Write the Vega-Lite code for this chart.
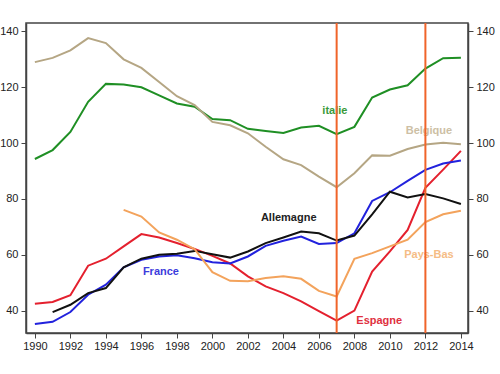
{
  "$schema": "https://vega.github.io/schema/vega-lite/v6.json",
  "width": 442,
  "height": 310,
  "autosize": {"type": "none"},
  "padding": {"left": 26, "top": 23, "right": 32, "bottom": 41},
  "background": "white",
  "config": {
    "view": {"stroke": "#444", "strokeWidth": 1.5},
    "font": "Liberation Sans",
    "axis": {"labelFont": "Liberation Sans", "labelFontSize": 11, "labelColor": "#222", "tickColor": "#444", "domainColor": "#444", "domainWidth": 1.5, "tickSize": 5, "grid": false, "title": null, "labelOverlap": false}
  },
  "datasets": {
    "series": [
      {"country": "Italie", "year": 1990, "value": 94.3}, {"country": "Italie", "year": 1991, "value": 97.5}, {"country": "Italie", "year": 1992, "value": 104}, {"country": "Italie", "year": 1993, "value": 114.8}, {"country": "Italie", "year": 1994, "value": 121.2}, {"country": "Italie", "year": 1995, "value": 121}, {"country": "Italie", "year": 1996, "value": 120}, {"country": "Italie", "year": 1997, "value": 117.1}, {"country": "Italie", "year": 1998, "value": 114.2}, {"country": "Italie", "year": 1999, "value": 113}, {"country": "Italie", "year": 2000, "value": 108.6}, {"country": "Italie", "year": 2001, "value": 108.2}, {"country": "Italie", "year": 2002, "value": 105.1}, {"country": "Italie", "year": 2003, "value": 104.3}, {"country": "Italie", "year": 2004, "value": 103.6}, {"country": "Italie", "year": 2005, "value": 105.6}, {"country": "Italie", "year": 2006, "value": 106.2}, {"country": "Italie", "year": 2007, "value": 103.2}, {"country": "Italie", "year": 2008, "value": 105.8}, {"country": "Italie", "year": 2009, "value": 116.3}, {"country": "Italie", "year": 2010, "value": 119.2}, {"country": "Italie", "year": 2011, "value": 120.7}, {"country": "Italie", "year": 2012, "value": 126.7}, {"country": "Italie", "year": 2013, "value": 130.4}, {"country": "Italie", "year": 2014, "value": 130.6},
      {"country": "Belgique", "year": 1990, "value": 129}, {"country": "Belgique", "year": 1991, "value": 130.5}, {"country": "Belgique", "year": 1992, "value": 133.2}, {"country": "Belgique", "year": 1993, "value": 137.6}, {"country": "Belgique", "year": 1994, "value": 135.8}, {"country": "Belgique", "year": 1995, "value": 130}, {"country": "Belgique", "year": 1996, "value": 126.9}, {"country": "Belgique", "year": 1997, "value": 121.9}, {"country": "Belgique", "year": 1998, "value": 116.8}, {"country": "Belgique", "year": 1999, "value": 113.6}, {"country": "Belgique", "year": 2000, "value": 107.6}, {"country": "Belgique", "year": 2001, "value": 106.4}, {"country": "Belgique", "year": 2002, "value": 103.5}, {"country": "Belgique", "year": 2003, "value": 98.7}, {"country": "Belgique", "year": 2004, "value": 94.2}, {"country": "Belgique", "year": 2005, "value": 92.1}, {"country": "Belgique", "year": 2006, "value": 88}, {"country": "Belgique", "year": 2007, "value": 84.2}, {"country": "Belgique", "year": 2008, "value": 89.2}, {"country": "Belgique", "year": 2009, "value": 95.6}, {"country": "Belgique", "year": 2010, "value": 95.5}, {"country": "Belgique", "year": 2011, "value": 97.9}, {"country": "Belgique", "year": 2012, "value": 99.5}, {"country": "Belgique", "year": 2013, "value": 100.1}, {"country": "Belgique", "year": 2014, "value": 99.6},
      {"country": "Espagne", "year": 1990, "value": 42.5}, {"country": "Espagne", "year": 1991, "value": 43.1}, {"country": "Espagne", "year": 1992, "value": 45.5}, {"country": "Espagne", "year": 1993, "value": 56.1}, {"country": "Espagne", "year": 1994, "value": 58.6}, {"country": "Espagne", "year": 1995, "value": 63}, {"country": "Espagne", "year": 1996, "value": 67.4}, {"country": "Espagne", "year": 1997, "value": 66.2}, {"country": "Espagne", "year": 1998, "value": 64.2}, {"country": "Espagne", "year": 1999, "value": 62.1}, {"country": "Espagne", "year": 2000, "value": 59.6}, {"country": "Espagne", "year": 2001, "value": 56.9}, {"country": "Espagne", "year": 2002, "value": 52.3}, {"country": "Espagne", "year": 2003, "value": 48.7}, {"country": "Espagne", "year": 2004, "value": 46.3}, {"country": "Espagne", "year": 2005, "value": 43.3}, {"country": "Espagne", "year": 2006, "value": 39.8}, {"country": "Espagne", "year": 2007, "value": 36.4}, {"country": "Espagne", "year": 2008, "value": 40}, {"country": "Espagne", "year": 2009, "value": 54}, {"country": "Espagne", "year": 2010, "value": 61.2}, {"country": "Espagne", "year": 2011, "value": 68.9}, {"country": "Espagne", "year": 2012, "value": 84}, {"country": "Espagne", "year": 2013, "value": 90.5}, {"country": "Espagne", "year": 2014, "value": 97.2},
      {"country": "France", "year": 1990, "value": 35.2}, {"country": "France", "year": 1991, "value": 36}, {"country": "France", "year": 1992, "value": 39.5}, {"country": "France", "year": 1993, "value": 45.7}, {"country": "France", "year": 1994, "value": 49.3}, {"country": "France", "year": 1995, "value": 55.5}, {"country": "France", "year": 1996, "value": 58.2}, {"country": "France", "year": 1997, "value": 59.4}, {"country": "France", "year": 1998, "value": 59.8}, {"country": "France", "year": 1999, "value": 58.8}, {"country": "France", "year": 2000, "value": 57.3}, {"country": "France", "year": 2001, "value": 56.9}, {"country": "France", "year": 2002, "value": 59.4}, {"country": "France", "year": 2003, "value": 63.2}, {"country": "France", "year": 2004, "value": 65}, {"country": "France", "year": 2005, "value": 66.5}, {"country": "France", "year": 2006, "value": 63.9}, {"country": "France", "year": 2007, "value": 64.2}, {"country": "France", "year": 2008, "value": 67.7}, {"country": "France", "year": 2009, "value": 79.3}, {"country": "France", "year": 2010, "value": 82.4}, {"country": "France", "year": 2011, "value": 86.5}, {"country": "France", "year": 2012, "value": 90.4}, {"country": "France", "year": 2013, "value": 92.7}, {"country": "France", "year": 2014, "value": 93.8},
      {"country": "Allemagne", "year": 1991, "value": 39.5}, {"country": "Allemagne", "year": 1992, "value": 42.1}, {"country": "Allemagne", "year": 1993, "value": 46.3}, {"country": "Allemagne", "year": 1994, "value": 48.1}, {"country": "Allemagne", "year": 1995, "value": 55.5}, {"country": "Allemagne", "year": 1996, "value": 58.6}, {"country": "Allemagne", "year": 1997, "value": 60}, {"country": "Allemagne", "year": 1998, "value": 60.4}, {"country": "Allemagne", "year": 1999, "value": 61.4}, {"country": "Allemagne", "year": 2000, "value": 60.2}, {"country": "Allemagne", "year": 2001, "value": 59}, {"country": "Allemagne", "year": 2002, "value": 61.2}, {"country": "Allemagne", "year": 2003, "value": 64.2}, {"country": "Allemagne", "year": 2004, "value": 66.2}, {"country": "Allemagne", "year": 2005, "value": 68.3}, {"country": "Allemagne", "year": 2006, "value": 67.7}, {"country": "Allemagne", "year": 2007, "value": 65.1}, {"country": "Allemagne", "year": 2008, "value": 66.9}, {"country": "Allemagne", "year": 2009, "value": 74.5}, {"country": "Allemagne", "year": 2010, "value": 82.6}, {"country": "Allemagne", "year": 2011, "value": 80.5}, {"country": "Allemagne", "year": 2012, "value": 81.8}, {"country": "Allemagne", "year": 2013, "value": 80.2}, {"country": "Allemagne", "year": 2014, "value": 78.2},
      {"country": "Pays-Bas", "year": 1995, "value": 76.1}, {"country": "Pays-Bas", "year": 1996, "value": 73.7}, {"country": "Pays-Bas", "year": 1997, "value": 68}, {"country": "Pays-Bas", "year": 1998, "value": 65.4}, {"country": "Pays-Bas", "year": 1999, "value": 62}, {"country": "Pays-Bas", "year": 2000, "value": 53.8}, {"country": "Pays-Bas", "year": 2001, "value": 50.7}, {"country": "Pays-Bas", "year": 2002, "value": 50.5}, {"country": "Pays-Bas", "year": 2003, "value": 51.7}, {"country": "Pays-Bas", "year": 2004, "value": 52.3}, {"country": "Pays-Bas", "year": 2005, "value": 51.4}, {"country": "Pays-Bas", "year": 2006, "value": 47.1}, {"country": "Pays-Bas", "year": 2007, "value": 45.1}, {"country": "Pays-Bas", "year": 2008, "value": 58.6}, {"country": "Pays-Bas", "year": 2009, "value": 60.6}, {"country": "Pays-Bas", "year": 2010, "value": 63}, {"country": "Pays-Bas", "year": 2011, "value": 65.4}, {"country": "Pays-Bas", "year": 2012, "value": 71.7}, {"country": "Pays-Bas", "year": 2013, "value": 74.5}, {"country": "Pays-Bas", "year": 2014, "value": 75.8}
    ],
    "labels": [
      {"country": "Italie", "label": "italie", "year": 2006.9, "value": 111.4},
      {"country": "Belgique", "label": "Belgique", "year": 2012.2, "value": 104.3},
      {"country": "Allemagne", "label": "Allemagne", "year": 2004.3, "value": 73},
      {"country": "France", "label": "France", "year": 1997.1, "value": 53.7},
      {"country": "Pays-Bas", "label": "Pays-Bas", "year": 2012.2, "value": 60},
      {"country": "Espagne", "label": "Espagne", "year": 2009.4, "value": 36.2}
    ],
    "markers": [{"year": 2007}, {"year": 2012}]
  },
  "layer": [
    {
      "data": {"name": "series"},
      "mark": {"type": "line", "strokeWidth": 2},
      "encoding": {
        "x": {"field": "year", "type": "quantitative", "scale": {"domain": [1989.5, 2014.4], "nice": false, "zero": false},
              "axis": {"values": [1990, 1992, 1994, 1996, 1998, 2000, 2002, 2004, 2006, 2008, 2010, 2012, 2014], "format": "d", "labelFlush": false}},
        "y": {"field": "value", "type": "quantitative", "scale": {"domain": [32, 143], "nice": false, "zero": false},
              "axis": {"values": [40, 60, 80, 100, 120, 140], "labelPadding": 3}},
        "color": {"field": "country", "type": "nominal", "legend": null,
                  "scale": {"domain": ["Italie", "Belgique", "Espagne", "France", "Allemagne", "Pays-Bas"],
                            "range": ["#1f8f24", "#b5a684", "#e4202e", "#2222dd", "#111111", "#f3a35c"]}},
        "strokeWidth": {"field": "country", "type": "nominal", "legend": null,
                  "scale": {"domain": ["Italie", "Belgique", "Espagne", "France", "Allemagne", "Pays-Bas"],
                            "range": [2, 1.5, 2, 2, 2, 1.5]}}
      }
    },
    {
      "data": {"name": "series"},
      "mark": {"type": "rule", "opacity": 0},
      "encoding": {
        "y": {"field": "value", "type": "quantitative", "axis": {"orient": "right", "values": [40, 60, 80, 100, 120, 140], "labelPadding": 3}}
      }
    },
    {
      "data": {"name": "labels"},
      "mark": {"type": "text", "fontWeight": "bold", "fontSize": 11, "align": "center", "baseline": "middle", "font": "Liberation Sans"},
      "encoding": {
        "x": {"field": "year", "type": "quantitative",
              "axis": {"values": [1990, 1992, 1994, 1996, 1998, 2000, 2002, 2004, 2006, 2008, 2010, 2012, 2014], "format": "d", "labelFlush": false}},
        "y": {"field": "value", "type": "quantitative", "axis": null},
        "text": {"field": "label"},
        "color": {"field": "country", "type": "nominal", "legend": null,
                  "scale": {"domain": ["Italie", "Belgique", "Espagne", "France", "Allemagne", "Pays-Bas"],
                            "range": ["#3a9a3a", "#cdbfa5", "#e03040", "#3c3cdc", "#222222", "#f5bc85"]}}
      }
    },
    {
      "data": {"name": "markers"},
      "mark": {"type": "rule", "color": "#f0642a", "strokeWidth": 2},
      "encoding": {
        "x": {"field": "year", "type": "quantitative",
              "axis": {"values": [1990, 1992, 1994, 1996, 1998, 2000, 2002, 2004, 2006, 2008, 2010, 2012, 2014], "format": "d", "labelFlush": false}}
      }
    }
  ],
  "resolve": {"scale": {"color": "independent", "y": "shared"}, "axis": {"y": "independent"}}
}
